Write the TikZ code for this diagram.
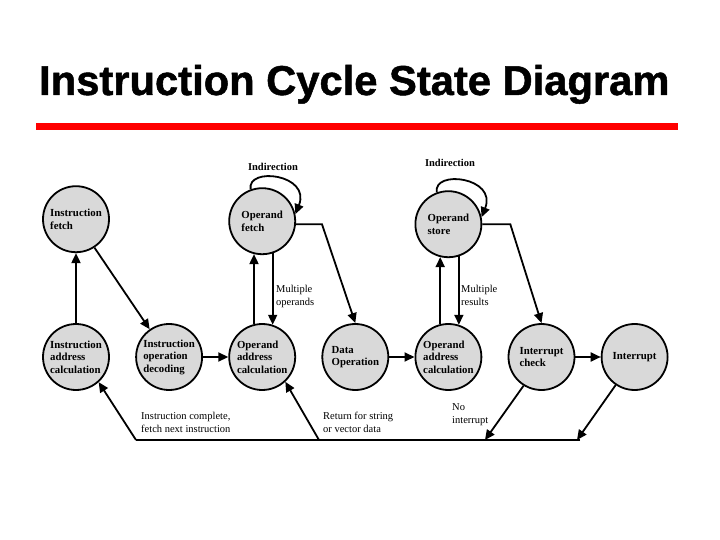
\documentclass[tikz,border=0pt]{standalone}
\usepackage{fontspec}
\setmainfont{Liberation Serif}
\newfontfamily\titlefont{Liberation Sans}[FakeBold=1.2]
\usepackage{tikz}
\usetikzlibrary{arrows.meta, positioning}

\begin{document}
\begin{tikzpicture}[x=1pt, y=-1pt,
          node distance=25.3pt,
          state/.style={circle, draw, line width=1.8pt, fill=black!15,
                        minimum size=66pt, inner sep=0pt,
                        align=left, font=\bfseries\fontsize{10.8}{12.5}\selectfont},
          lbl/.style={align=left, inner sep=0pt, font=\fontsize{10.5}{13}\selectfont},
          arr/.style={-{Triangle[length=10pt, width=9pt]}, line width=1.8pt},
          line/.style={line width=1.8pt}]
          \useasboundingbox (0,0) rectangle (720,540);
          % title and red bar
          \node[anchor=base west, inner sep=0pt, font=\titlefont\bfseries\fontsize{41.7}{42}\selectfont]
                (title) at (39,95) {Instruction Cycle State Diagram};
          \fill[red] (36,123) rectangle (678,130);
          % bottom row
          \node[state] (iaddr) at (76,357) {Instruction\\address\\calculation};
          \node[state, right=of iaddr]   (idecode) {Instruction\\operation\\decoding};
          \node[state, right=of idecode] (oaddr)   {Operand\\address\\calculation};
          \node[state, right=of oaddr]   (dataop)  {Data\\Operation};
          \node[state, right=of dataop]  (oaddrb)  {Operand\\address\\calculation};
          \node[state, right=of oaddrb]  (ichk)    {Interrupt\\check};
          \node[state, right=of ichk]    (intr)    {Interrupt};
          % top row
          \node[state, above=70pt of iaddr]  (ifetch) {Instruction\\fetch};
          \node[state, above=68pt of oaddr]  (ofetch) {Operand\\fetch};
          \node[state, above=65pt of oaddrb] (ostore) {Operand\\store};
          % return line
          \coordinate (retl) at (136,440);
          \coordinate (retm) at (319,440);
          \coordinate (noint) at (485,440);
          \coordinate (intback) at (577,440);
          \coordinate (retr) at (580,440);
          \draw[line] (retr) -- (retl);
          % connectors
          \draw[arr] (iaddr) -- (ifetch);
          \draw[arr] (ifetch.-57) -- (idecode.125);
          \draw[arr] (idecode) -- (oaddr);
          \draw[arr] (oaddr.104) -- (ofetch.256);
          \draw[arr] (ofetch.-72) -- (oaddr.72);
          \draw[arr] (ofetch.110) .. controls +(-4,-23) and +(16,-40) .. (ofetch.12);
          \draw[arr] (ofetch.-5) -- ++(26,0) -- (dataop.north);
          \draw[arr] (dataop) -- (oaddrb);
          \draw[arr] (oaddrb.104) -- (ostore.256);
          \draw[arr] (ostore.-72) -- (oaddrb.72);
          \draw[arr] (ostore.110) .. controls +(-4,-23) and +(16,-40) .. (ostore.12);
          \draw[arr] (ostore.east) -- ++(28,0) -- (ichk.north);
          \draw[arr] (ichk) -- (intr);
          \draw[arr] (ichk.238) -- (noint);
          \draw[arr] (intr.236) -- (intback);
          \draw[arr] (retl) -- (iaddr.-48);
          \draw[arr] (retm) -- (oaddr.-47);
          % labels
          \node[lbl, font=\bfseries\fontsize{10.5}{13}\selectfont] (indf) at (273,167) {Indirection};
          \node[lbl, font=\bfseries\fontsize{10.5}{13}\selectfont] (inds) at (450,163) {Indirection};
          \node[lbl, anchor=north west] (mops) at (276,285) {Multiple\\operands};
          \node[lbl, anchor=north west] (mres) at (461,285) {Multiple\\results};
          \node[lbl, anchor=north west] (icmp) at (141,412) {Instruction complete,\\fetch next instruction};
          \node[lbl, anchor=north west] (rstr) at (323,412) {Return for string\\or vector data};
          \node[lbl, anchor=north west] (nint) at (452,403) {No\\interrupt};
\end{tikzpicture}
\end{document}
